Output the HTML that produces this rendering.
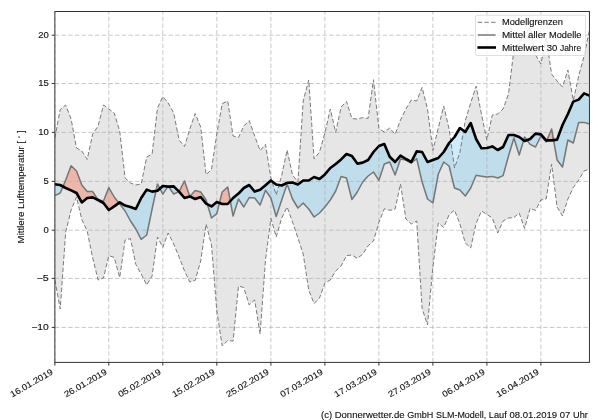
<!DOCTYPE html>
<html><head><meta charset="utf-8"><title>Mittlere Lufttemperatur</title>
<style>html,body{margin:0;padding:0;background:#fff}svg{display:block;will-change:transform}text{font-family:"Liberation Sans",sans-serif;font-size:8.6px;fill:#111;stroke:#111;stroke-width:0.12px}</style></head>
<body>
<svg width="600" height="420" viewBox="0 0 600 420">
<rect width="600" height="420" fill="#fff"/>
<defs><clipPath id="ax"><rect x="54.85" y="11.5" width="534.6" height="350.9"/></clipPath></defs>
<g clip-path="url(#ax)">
<path d="M54.9,138 L60.2,109.6 L65.7,105 L71.1,119 L76.5,148 L81.8,151 L87.2,159.4 L92.7,134 L98.1,126 L103.5,105 L108.8,109 L114.2,113 L119.7,131 L125.1,178 L130.5,183 L135.8,185 L141.2,184 L146.7,157 L152.1,154 L157.5,108 L162.8,96.6 L168.2,103 L173.7,113 L179.1,140 L184.5,146.6 L189.8,129 L195.2,113.6 L200.7,127 L206.1,174.8 L211.5,169.3 L216.8,134 L222.2,103.6 L227.7,101 L233.1,136 L238.5,137.4 L243.8,126 L249.2,120.6 L254.7,136 L260.1,150.6 L265.5,144.4 L270.9,178 L276.2,195 L281.7,175.5 L287.1,150 L292.5,175 L297.9,182 L303.2,101 L308.7,80 L314.1,159 L319.5,152 L324.9,133 L330.3,109 L335.7,132.4 L341.1,107 L346.5,101.4 L351.9,118.6 L357.3,119 L362.7,117.6 L368.1,118.4 L373.5,79.7 L378.9,128.5 L384.3,132 L389.7,128 L395.1,134.4 L400.5,120 L405.9,109 L411.3,100 L416.7,101 L422.1,87.4 L427.5,109 L432.9,150.5 L438.3,128 L443.7,106 L449.1,129 L454.5,168 L459.9,152.5 L465.3,120.5 L470.7,103 L476.1,86.2 L481.5,114.5 L486.9,140 L492.3,115 L497.7,114 L503.1,109 L508.5,94 L513.9,50 L519.2,42 L524.6,34 L530.1,27 L535.5,55 L540.9,64 L546.2,38 L551.6,74 L557.1,81 L562.5,87 L567.9,70 L573.3,100.5 L578.7,76 L584.1,56 L589.5,30 L589.5,169 L584.1,171 L578.7,180 L573.3,187.5 L567.9,199 L562.5,216 L557.1,207 L551.6,164 L546.2,199 L540.9,200 L535.5,210.5 L530.1,208.3 L524.6,228.6 L519.2,213 L513.9,217.6 L508.5,218 L503.1,221 L497.7,233 L492.3,218 L486.9,214.5 L481.5,211 L476.1,223.5 L470.7,248 L465.3,243 L459.9,224 L454.5,210 L449.1,214.8 L443.7,227.4 L438.3,223 L432.9,267 L427.5,325 L422.1,308.5 L416.7,221 L411.3,224 L405.9,219 L400.5,184 L395.1,209.2 L389.7,210.3 L384.3,208.8 L378.9,222.5 L373.5,241 L368.1,245.8 L362.7,254.2 L357.3,258.4 L351.9,255 L346.5,255.6 L341.1,266 L335.7,271 L330.3,280 L324.9,283 L319.5,298 L314.1,303.6 L308.7,290 L303.2,254 L297.9,238 L292.5,222 L287.1,207 L281.7,218 L276.2,237 L270.9,218.4 L265.5,260 L260.1,334 L254.7,300 L249.2,305 L243.8,287.5 L238.5,286 L233.1,341 L227.7,340.6 L222.2,346 L216.8,311 L211.5,245 L206.1,224 L200.7,261 L195.2,280.4 L189.8,282 L184.5,271 L179.1,257 L173.7,244 L168.2,233 L162.8,247.3 L157.5,237 L152.1,276 L146.7,285 L141.2,274 L135.8,264.4 L130.5,238.6 L125.1,240 L119.7,277.6 L114.2,257.4 L108.8,255.6 L103.5,278 L98.1,280 L92.7,258 L87.2,231 L81.8,219.5 L76.5,197 L71.1,210 L65.7,232 L60.2,309 L54.9,280Z" fill="#808080" fill-opacity="0.2"/>
<path d="M54.9,184.4 L60.2,185 L63,186.5 L60.2,193 L54.9,195.6Z M118.9,203 L119.7,202.4 L125.1,205.6 L130.5,207 L135.8,209 L141.2,198 L146.7,189.6 L152.1,191.6 L155.9,191 L152.1,209 L146.7,235 L141.2,239.4 L135.8,229 L130.5,221 L125.1,211 L119.7,204Z M159.9,188.6 L162.8,186 L168,186.6 L162.8,194.2Z M168.5,186.6 L173.7,186.4 L179.1,191.6 L173.7,194Z M207.3,204.3 L211.5,206.4 L216.8,202 L219.5,203 L216.8,213.6 L211.5,218Z M230.3,201.1 L233.1,198 L238.5,193.6 L243.8,188 L249.2,185 L254.7,191.6 L260.1,189.7 L265.5,185.3 L270.9,180.5 L276.2,184.5 L281.7,185.5 L287.1,182.8 L292.5,182.5 L297.9,184.5 L303.2,180.5 L308.7,180.5 L314.1,177 L319.5,179 L324.9,174.4 L330.3,168 L335.7,164 L341.1,159.4 L346.5,154 L351.9,156 L357.3,163.6 L362.7,162.6 L368.1,160 L373.5,152 L378.9,146 L384.3,144 L389.7,156.7 L395.1,162 L400.5,155.6 L405.9,159 L411.3,162 L416.7,151.4 L422.1,152 L427.5,162 L432.9,160 L438.3,158 L443.7,152 L449.1,143 L454.5,137 L459.9,128 L465.3,132 L470.7,123 L476.1,139 L481.5,148.3 L486.9,148 L492.3,146.4 L497.7,150 L503.1,147 L508.5,135 L513.9,135 L519.2,137 L523.7,140.3 L519.2,155 L513.9,138 L508.5,156 L503.1,175.6 L497.7,178 L492.3,176.4 L486.9,177 L481.5,176.2 L476.1,175.3 L470.7,188 L465.3,196 L459.9,190 L454.5,188 L449.1,166 L443.7,162 L438.3,174 L432.9,203 L427.5,199 L422.1,182 L416.7,158.6 L411.3,163 L405.9,160 L400.5,159 L395.1,175 L389.7,162 L384.3,164 L378.9,180.3 L373.5,172 L368.1,176 L362.7,182 L357.3,192 L351.9,199.5 L346.5,178 L341.1,176.6 L335.7,191 L330.3,200 L324.9,207 L319.5,213 L314.1,217 L308.7,209 L303.2,203 L297.9,208 L292.5,199 L287.1,183.9 L281.7,200 L276.2,216.5 L270.9,198 L265.5,190.3 L260.1,205 L254.7,198 L249.2,197.6 L243.8,207 L238.5,199 L233.1,216Z M526.9,140.1 L530.1,139 L535.5,133.6 L540.9,134.4 L546.2,140.4 L546.9,140.4 L546.2,142 L540.9,136 L535.5,147 L530.1,144.4Z M553.6,140.1 L557.1,139.6 L562.5,125 L567.9,114 L573.3,101.6 L578.7,99.6 L584.1,93.4 L589.5,95.6 L589.5,124 L584.1,122.4 L578.7,122.4 L573.3,143 L567.9,140 L562.5,167 L557.1,160Z" fill="#87cff3" fill-opacity="0.4" stroke="#87cff3" stroke-opacity="0.4" stroke-width="1"/>
<path d="M63,186.5 L65.7,188 L71.1,190.4 L76.5,193 L81.8,202.4 L87.2,198 L92.7,197.4 L98.1,200 L92.7,191.6 L87.2,191.4 L81.8,185 L76.5,171 L71.1,165.8 L65.7,180Z M98.1,200 L103.5,203 L108.8,210 L114.2,206.4 L118.9,203 L114.2,197 L108.8,187.6 L103.5,201Z M155.9,191 L157.5,190.8 L159.9,188.6 L157.5,184Z M168,186.6 L168.2,186.6 L168.5,186.6 L168.2,186.2Z M179.1,191.6 L184.5,198 L189.8,196.4 L184.5,181Z M189.8,196.4 L195.2,199 L200.7,197 L206.1,203.6 L207.3,204.3 L206.1,200 L200.7,192 L195.2,190.6Z M219.5,203 L222.2,204 L227.7,204 L230.3,201.1 L227.7,187 L222.2,192Z M523.7,140.3 L524.6,141 L526.9,140.1 L524.6,137Z M546.9,140.4 L551.6,140.4 L553.6,140.1 L551.6,129Z" fill="#f56e52" fill-opacity="0.4" stroke="#f56e52" stroke-opacity="0.4" stroke-width="1"/>
<path d="M54.9,362.4V11.5 M108.8,362.4V11.5 M162.8,362.4V11.5 M216.8,362.4V11.5 M270.9,362.4V11.5 M324.9,362.4V11.5 M378.9,362.4V11.5 M432.9,362.4V11.5 M486.9,362.4V11.5 M540.9,362.4V11.5 M54.85,35.2H589.5 M54.85,83.5H589.5 M54.85,132.4H589.5 M54.85,181.4H589.5 M54.85,230.2H589.5 M54.85,278.4H589.5 M54.85,327.4H589.5" fill="none" stroke="#b0b0b0" stroke-opacity="0.7" stroke-width="1" stroke-dasharray="4.4 2.29"/>
<polyline points="54.9,138 60.2,109.6 65.7,105 71.1,119 76.5,148 81.8,151 87.2,159.4 92.7,134 98.1,126 103.5,105 108.8,109 114.2,113 119.7,131 125.1,178 130.5,183 135.8,185 141.2,184 146.7,157 152.1,154 157.5,108 162.8,96.6 168.2,103 173.7,113 179.1,140 184.5,146.6 189.8,129 195.2,113.6 200.7,127 206.1,174.8 211.5,169.3 216.8,134 222.2,103.6 227.7,101 233.1,136 238.5,137.4 243.8,126 249.2,120.6 254.7,136 260.1,150.6 265.5,144.4 270.9,178 276.2,195 281.7,175.5 287.1,150 292.5,175 297.9,182 303.2,101 308.7,80 314.1,159 319.5,152 324.9,133 330.3,109 335.7,132.4 341.1,107 346.5,101.4 351.9,118.6 357.3,119 362.7,117.6 368.1,118.4 373.5,79.7 378.9,128.5 384.3,132 389.7,128 395.1,134.4 400.5,120 405.9,109 411.3,100 416.7,101 422.1,87.4 427.5,109 432.9,150.5 438.3,128 443.7,106 449.1,129 454.5,168 459.9,152.5 465.3,120.5 470.7,103 476.1,86.2 481.5,114.5 486.9,140 492.3,115 497.7,114 503.1,109 508.5,94 513.9,50 519.2,42 524.6,34 530.1,27 535.5,55 540.9,64 546.2,38 551.6,74 557.1,81 562.5,87 567.9,70 573.3,100.5 578.7,76 584.1,56 589.5,30" fill="none" stroke="#7a7a7a" stroke-width="1" stroke-dasharray="4.4 2.25"/>
<polyline points="54.9,280 60.2,309 65.7,232 71.1,210 76.5,197 81.8,219.5 87.2,231 92.7,258 98.1,280 103.5,278 108.8,255.6 114.2,257.4 119.7,277.6 125.1,240 130.5,238.6 135.8,264.4 141.2,274 146.7,285 152.1,276 157.5,237 162.8,247.3 168.2,233 173.7,244 179.1,257 184.5,271 189.8,282 195.2,280.4 200.7,261 206.1,224 211.5,245 216.8,311 222.2,346 227.7,340.6 233.1,341 238.5,286 243.8,287.5 249.2,305 254.7,300 260.1,334 265.5,260 270.9,218.4 276.2,237 281.7,218 287.1,207 292.5,222 297.9,238 303.2,254 308.7,290 314.1,303.6 319.5,298 324.9,283 330.3,280 335.7,271 341.1,266 346.5,255.6 351.9,255 357.3,258.4 362.7,254.2 368.1,245.8 373.5,241 378.9,222.5 384.3,208.8 389.7,210.3 395.1,209.2 400.5,184 405.9,219 411.3,224 416.7,221 422.1,308.5 427.5,325 432.9,267 438.3,223 443.7,227.4 449.1,214.8 454.5,210 459.9,224 465.3,243 470.7,248 476.1,223.5 481.5,211 486.9,214.5 492.3,218 497.7,233 503.1,221 508.5,218 513.9,217.6 519.2,213 524.6,228.6 530.1,208.3 535.5,210.5 540.9,200 546.2,199 551.6,164 557.1,207 562.5,216 567.9,199 573.3,187.5 578.7,180 584.1,171 589.5,169" fill="none" stroke="#7a7a7a" stroke-width="1" stroke-dasharray="4.4 2.25"/>
<polyline points="54.9,195.6 60.2,193 65.7,180 71.1,165.8 76.5,171 81.8,185 87.2,191.4 92.7,191.6 98.1,200 103.5,201 108.8,187.6 114.2,197 119.7,204 125.1,211 130.5,221 135.8,229 141.2,239.4 146.7,235 152.1,209 157.5,184 162.8,194.2 168.2,186.2 173.7,194 179.1,191.6 184.5,181 189.8,196.4 195.2,190.6 200.7,192 206.1,200 211.5,218 216.8,213.6 222.2,192 227.7,187 233.1,216 238.5,199 243.8,207 249.2,197.6 254.7,198 260.1,205 265.5,190.3 270.9,198 276.2,216.5 281.7,200 287.1,183.9 292.5,199 297.9,208 303.2,203 308.7,209 314.1,217 319.5,213 324.9,207 330.3,200 335.7,191 341.1,176.6 346.5,178 351.9,199.5 357.3,192 362.7,182 368.1,176 373.5,172 378.9,180.3 384.3,164 389.7,162 395.1,175 400.5,159 405.9,160 411.3,163 416.7,158.6 422.1,182 427.5,199 432.9,203 438.3,174 443.7,162 449.1,166 454.5,188 459.9,190 465.3,196 470.7,188 476.1,175.3 481.5,176.2 486.9,177 492.3,176.4 497.7,178 503.1,175.6 508.5,156 513.9,138 519.2,155 524.6,137 530.1,144.4 535.5,147 540.9,136 546.2,142 551.6,129 557.1,160 562.5,167 567.9,140 573.3,143 578.7,122.4 584.1,122.4 589.5,124" fill="none" stroke="#777" stroke-width="1.5" stroke-linejoin="round"/>
<polyline points="54.9,184.4 60.2,185 65.7,188 71.1,190.4 76.5,193 81.8,202.4 87.2,198 92.7,197.4 98.1,200 103.5,203 108.8,210 114.2,206.4 119.7,202.4 125.1,205.6 130.5,207 135.8,209 141.2,198 146.7,189.6 152.1,191.6 157.5,190.8 162.8,186 168.2,186.6 173.7,186.4 179.1,191.6 184.5,198 189.8,196.4 195.2,199 200.7,197 206.1,203.6 211.5,206.4 216.8,202 222.2,204 227.7,204 233.1,198 238.5,193.6 243.8,188 249.2,185 254.7,191.6 260.1,189.7 265.5,185.3 270.9,180.5 276.2,184.5 281.7,185.5 287.1,182.8 292.5,182.5 297.9,184.5 303.2,180.5 308.7,180.5 314.1,177 319.5,179 324.9,174.4 330.3,168 335.7,164 341.1,159.4 346.5,154 351.9,156 357.3,163.6 362.7,162.6 368.1,160 373.5,152 378.9,146 384.3,144 389.7,156.7 395.1,162 400.5,155.6 405.9,159 411.3,162 416.7,151.4 422.1,152 427.5,162 432.9,160 438.3,158 443.7,152 449.1,143 454.5,137 459.9,128 465.3,132 470.7,123 476.1,139 481.5,148.3 486.9,148 492.3,146.4 497.7,150 503.1,147 508.5,135 513.9,135 519.2,137 524.6,141 530.1,139 535.5,133.6 540.9,134.4 546.2,140.4 551.6,140.4 557.1,139.6 562.5,125 567.9,114 573.3,101.6 578.7,99.6 584.1,93.4 589.5,95.6" fill="none" stroke="#000" stroke-width="2.6" stroke-linejoin="round" stroke-linecap="square"/>
</g>
<rect x="54.85" y="11.5" width="534.6" height="350.9" fill="none" stroke="#333" stroke-width="1"/>
<path d="M54.9,362.4v3.2 M108.8,362.4v3.2 M162.8,362.4v3.2 M216.8,362.4v3.2 M270.9,362.4v3.2 M324.9,362.4v3.2 M378.9,362.4v3.2 M432.9,362.4v3.2 M486.9,362.4v3.2 M540.9,362.4v3.2 M54.85,35.2h-3.1 M54.85,83.5h-3.1 M54.85,132.4h-3.1 M54.85,181.4h-3.1 M54.85,230.2h-3.1 M54.85,278.4h-3.1 M54.85,327.4h-3.1" fill="none" stroke="#333" stroke-width="1"/>
<text x="48.8" y="330.2" text-anchor="end" textLength="17.6" lengthAdjust="spacingAndGlyphs">−10</text>
<text x="48.8" y="281.2" text-anchor="end" textLength="12.3" lengthAdjust="spacingAndGlyphs">−5</text>
<text x="48.8" y="233.1" text-anchor="end" textLength="5.3" lengthAdjust="spacingAndGlyphs">0</text>
<text x="48.8" y="184.2" text-anchor="end" textLength="5.3" lengthAdjust="spacingAndGlyphs">5</text>
<text x="48.8" y="135.2" text-anchor="end" textLength="10.6" lengthAdjust="spacingAndGlyphs">10</text>
<text x="48.8" y="86.2" text-anchor="end" textLength="10.6" lengthAdjust="spacingAndGlyphs">15</text>
<text x="48.8" y="38" text-anchor="end" textLength="10.6" lengthAdjust="spacingAndGlyphs">20</text>
<text transform="translate(53.6,373.7) rotate(-30)" text-anchor="end" textLength="47.7" lengthAdjust="spacingAndGlyphs">16.01.2019</text>
<text transform="translate(107.5,373.7) rotate(-30)" text-anchor="end" textLength="47.7" lengthAdjust="spacingAndGlyphs">26.01.2019</text>
<text transform="translate(161.5,373.7) rotate(-30)" text-anchor="end" textLength="47.7" lengthAdjust="spacingAndGlyphs">05.02.2019</text>
<text transform="translate(215.5,373.7) rotate(-30)" text-anchor="end" textLength="47.7" lengthAdjust="spacingAndGlyphs">15.02.2019</text>
<text transform="translate(269.6,373.7) rotate(-30)" text-anchor="end" textLength="47.7" lengthAdjust="spacingAndGlyphs">25.02.2019</text>
<text transform="translate(323.6,373.7) rotate(-30)" text-anchor="end" textLength="47.7" lengthAdjust="spacingAndGlyphs">07.03.2019</text>
<text transform="translate(377.6,373.7) rotate(-30)" text-anchor="end" textLength="47.7" lengthAdjust="spacingAndGlyphs">17.03.2019</text>
<text transform="translate(431.6,373.7) rotate(-30)" text-anchor="end" textLength="47.7" lengthAdjust="spacingAndGlyphs">27.03.2019</text>
<text transform="translate(485.6,373.7) rotate(-30)" text-anchor="end" textLength="47.7" lengthAdjust="spacingAndGlyphs">06.04.2019</text>
<text transform="translate(539.6,373.7) rotate(-30)" text-anchor="end" textLength="47.7" lengthAdjust="spacingAndGlyphs">16.04.2019</text>
<text transform="translate(23.9,243.4) rotate(-90)" textLength="113" lengthAdjust="spacingAndGlyphs">Mittlere Lufttemperatur [ <tspan dy="-2.5" font-size="6px">◦</tspan><tspan dy="2.5"> ]</tspan></text>
<text y="418"><tspan x="321" textLength="11.1" lengthAdjust="spacingAndGlyphs">(c)</tspan><tspan x="334.7" textLength="69.9" lengthAdjust="spacingAndGlyphs">Donnerwetter.de</tspan><tspan x="407.3" textLength="26.1" lengthAdjust="spacingAndGlyphs">GmbH</tspan><tspan x="436.1" textLength="50.1" lengthAdjust="spacingAndGlyphs">SLM-Modell,</tspan><tspan x="488.8" textLength="18" lengthAdjust="spacingAndGlyphs">Lauf</tspan><tspan x="509.4" textLength="47.7" lengthAdjust="spacingAndGlyphs">08.01.2019</tspan><tspan x="559.8" textLength="10.6" lengthAdjust="spacingAndGlyphs">07</tspan><tspan x="573" textLength="14.8" lengthAdjust="spacingAndGlyphs">Uhr</tspan></text>
<rect x="475.5" y="15.2" width="110" height="40.3" rx="1.7" fill="#fff" fill-opacity="0.8" stroke="#ccc" stroke-opacity="0.7" stroke-width="0.9"/>
<path d="M477.8,22.3H495.6" stroke="#7a7a7a" stroke-width="1" stroke-dasharray="4.4 2.25" fill="none"/>
<path d="M477.8,35H495.6" stroke="#777" stroke-width="1.5" fill="none"/>
<path d="M477.4,47.5H496" stroke="#000" stroke-width="2.6" fill="none"/>
<text x="501.9" y="25.3" textLength="61" lengthAdjust="spacingAndGlyphs">Modellgrenzen</text>
<text y="38"><tspan x="501.9" textLength="23.5" lengthAdjust="spacingAndGlyphs">Mittel</tspan><tspan x="528" textLength="18.3" lengthAdjust="spacingAndGlyphs">aller</tspan><tspan x="549" textLength="32.4" lengthAdjust="spacingAndGlyphs">Modelle</tspan></text>
<text y="50.6"><tspan x="501.9" textLength="42.1" lengthAdjust="spacingAndGlyphs">Mittelwert</tspan><tspan x="546.7" textLength="10.6" lengthAdjust="spacingAndGlyphs">30</tspan><tspan x="559.9" textLength="21.2" lengthAdjust="spacingAndGlyphs">Jahre</tspan></text>
</svg>
</body></html>
